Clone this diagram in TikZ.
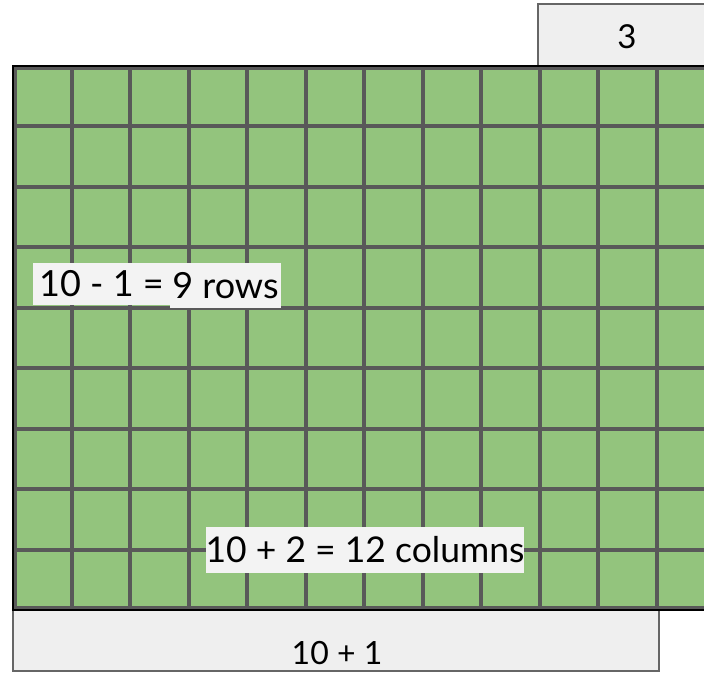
\documentclass[tikz,border=0pt]{standalone}
\usepackage{fontspec}
\setmainfont{Lato}
\definecolor{cellgreen}{HTML}{93C47D}
\definecolor{gridgray}{HTML}{595959}
\definecolor{boxgray}{HTML}{EFEFEF}
\definecolor{labelgray}{HTML}{F3F3F3}
\definecolor{boxedge}{HTML}{666666}
\tikzset{
  sidebox/.style={draw=boxedge, line width=1.5pt, fill=boxgray},
  gridline/.style={draw=gridgray, line width=4pt},
  lbl/.style={fill=labelgray, inner sep=0pt, font=\fontsize{36}{40}\selectfont, text=black},
}
\begin{document}
\begin{tikzpicture}[x=1pt,y=-1pt]
\useasboundingbox (0,0) rectangle (704,672);
\clip (0,0) rectangle (704,672);
% top box "3"
\draw[sidebox] (538,4) rectangle (720,80);
\node[font=\fontsize{33}{38}\selectfont] (three) at (627,37) {3};
% bottom box "10 + 1"
\draw[sidebox] (13,600) rectangle (659,671);
\node[font=\fontsize{32}{38}\selectfont] (eleven) at (337,653) {10 + 1};
% grid
\fill[cellgreen] (13,66) rectangle (720,610);
\foreach \k in {1,...,11} {
  \draw[gridline] ({13+58.5*\k},66) -- ({13+58.5*\k},610);
}
\foreach \k in {1,...,8} {
  \draw[gridline] (13,{66+60.44*\k}) -- (720,{66+60.44*\k});
}
\draw[gridgray, line width=4pt] (15,68) rectangle (722,608);
\draw[black, line width=2pt] (13,66) rectangle (722,610);
% labels
\node[lbl, minimum width=137pt, minimum height=42pt] (rowsa) at (101.5,284) {10 - 1 =};
\node[lbl, minimum width=111pt, minimum height=45pt] (rowsb) at (225.5,285.5) {9 rows};
\node[lbl, font=\fontsize{35.5}{40}\selectfont, minimum width=316pt, minimum height=46pt] (cols) at (365,550) {10 + 2 = 12 columns};
\end{tikzpicture}
\end{document}
